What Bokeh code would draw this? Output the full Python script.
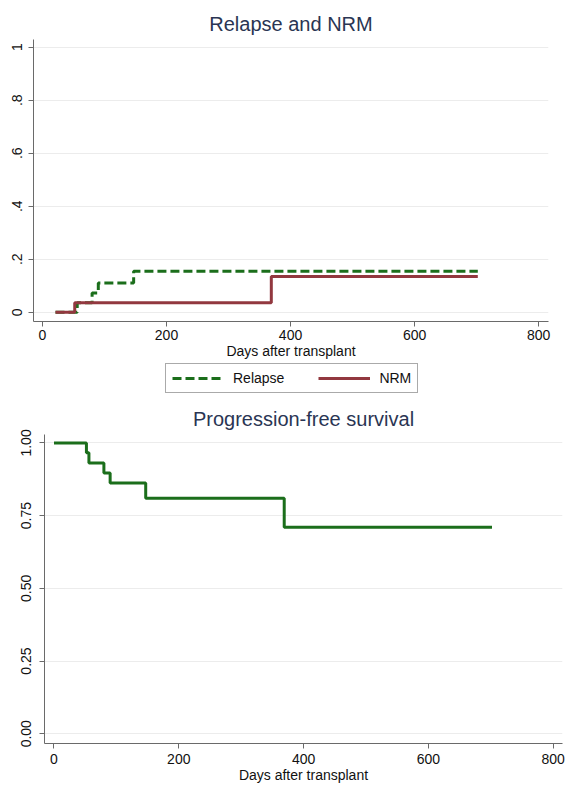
from bokeh.plotting import figure
from bokeh.models import FixedTicker, Range1d, Legend, LegendItem
from bokeh.embed import file_html
from bokeh.resources import INLINE

# ---- data ----
relapse_days = [21, 56, 80, 90, 147, 702]
relapse_ci = [0.0, 0.036, 0.073, 0.11, 0.155, 0.155]
nrm_days = [21, 52, 369, 702]
nrm_ci = [0.0, 0.036, 0.135, 0.135]
pfs_days = [0, 52, 56, 80, 90, 147, 369, 702]
pfs_prob = [1.0, 0.966, 0.931, 0.897, 0.862, 0.81, 0.71, 0.71]

x_ticks = [0, 200, 400, 600, 800]
top_y_ticks = [0, 0.2, 0.4, 0.6, 0.8, 1.0]
top_y_labels = ["0", ".2", ".4", ".6", ".8", "1"]
bot_y_ticks = [0, 0.25, 0.5, 0.75, 1.0]
bot_y_labels = ["0.00", "0.25", "0.50", "0.75", "1.00"]
legend_labels = ["Relapse", "NRM"]

FONT = "Liberation Sans"
GREEN = "#1b6e1b"
RED = "#92383f"
TITLE_C = "#2a3553"
AXIS_C = "#6a6a6a"
GRID_C = "#ececec"
DASH = "9 4"


def style(p, yticks, ylabels):
    p.outline_line_color = None
    p.background_fill_color = "white"
    p.border_fill_color = "white"
    p.title.align = "center"
    p.title.text_font = FONT
    p.title.text_font_size = "20px"
    p.title.text_font_style = "normal"
    p.title.text_color = TITLE_C
    p.xgrid.grid_line_color = None
    p.ygrid.grid_line_color = GRID_C
    p.ygrid.grid_line_width = 1
    p.xaxis.ticker = FixedTicker(ticks=x_ticks)
    p.yaxis.ticker = FixedTicker(ticks=yticks)
    p.yaxis.major_label_overrides = {t: l for t, l in zip(yticks, ylabels)}
    p.yaxis.major_label_orientation = "vertical"
    for ax in (p.xaxis, p.yaxis):
        ax.axis_line_color = AXIS_C
        ax.major_tick_line_color = AXIS_C
        ax.major_tick_in = 0
        ax.major_tick_out = 5
        ax.minor_tick_line_color = None
        ax.major_label_text_font = FONT
        ax.major_label_text_font_size = "14px"
        ax.major_label_text_color = "#111111"
        ax.major_label_standoff = 3
    p.xaxis.axis_label = "Days after transplant"
    p.xaxis.axis_label_text_font = FONT
    p.xaxis.axis_label_text_font_size = "14px"
    p.xaxis.axis_label_text_font_style = "normal"
    p.xaxis.axis_label_text_color = "#111111"
    p.xaxis.axis_label_standoff = 0


# ---- top: Relapse and NRM ----
p1 = figure(width=566, height=362, output_backend="svg", toolbar_location=None,
            title="Relapse and NRM",
            x_range=Range1d(-14.5, 816), y_range=Range1d(-0.035, 1.029),
            min_border_left=33, min_border_right=18, min_border_top=39, min_border_bottom=41)
style(p1, top_y_ticks, top_y_labels)
p1.yaxis.major_label_standoff = 6
p1.step(relapse_days, relapse_ci, mode="after", line_color=GREEN, line_width=3, line_dash=DASH)
p1.step(nrm_days, nrm_ci, mode="after", line_color=RED, line_width=3)

# ---- legend strip (same series, drawn outside its view so only the legend shows) ----
pl = figure(width=566, height=38, output_backend="svg", toolbar_location=None,
            x_range=Range1d(-1000, -999), y_range=Range1d(-1000, -999),
            min_border_left=0, min_border_right=0, min_border_top=0, min_border_bottom=0)
pl.axis.visible = False
pl.grid.visible = False
pl.outline_line_color = None
pl.border_fill_color = "white"
g_rel = pl.line(relapse_days, relapse_ci, line_color=GREEN, line_width=3, line_dash=DASH)
g_nrm = pl.line(nrm_days, nrm_ci, line_color=RED, line_width=3)
leg = Legend(items=[LegendItem(label=legend_labels[0], renderers=[g_rel]),
                    LegendItem(label=legend_labels[1], renderers=[g_nrm])],
             orientation="horizontal", location=(165, 7),
             label_text_font=FONT, label_text_font_size="14px", label_text_color="#111111",
             glyph_width=52, glyph_height=14, spacing=34, label_standoff=9,
             padding=6, margin=0, border_line_color="#555555", border_line_width=1,
             background_fill_color="white")
pl.add_layout(leg, "center")

# ---- bottom: Progression-free survival ----
p2 = figure(width=566, height=385, output_backend="svg", toolbar_location=None,
            title="Progression-free survival",
            x_range=Range1d(-15.2, 815), y_range=Range1d(-0.0336, 1.029),
            min_border_left=44, min_border_right=4, min_border_top=33, min_border_bottom=35)
style(p2, bot_y_ticks, bot_y_labels)
p2.yaxis.major_label_standoff = 8
p2.xaxis.major_label_standoff = 5
p2.step(pfs_days, pfs_prob, mode="after", line_color=GREEN, line_width=3)

open("out.html", "w").write(file_html([p1, pl, p2], INLINE))
